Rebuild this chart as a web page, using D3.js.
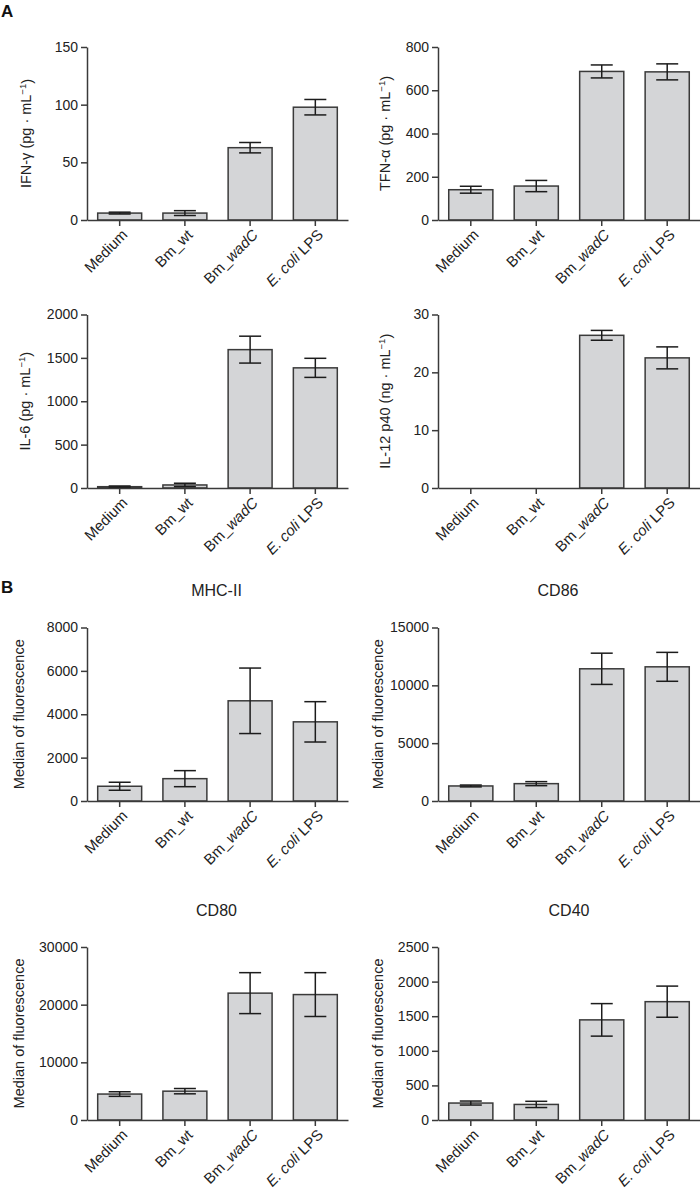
<!DOCTYPE html>
<html><head><meta charset="utf-8">
<script src="https://cdn.jsdelivr.net/npm/d3@7"></script>
<style>
html,body{margin:0;padding:0;background:#fff;}
svg{display:block;font-family:"Liberation Sans",Arial,Helvetica,sans-serif;}
</style></head>
<body>
<svg id="chart" width="700" height="1189"></svg>
<script>
// ---- data ----
const categories = ["Medium", "Bm_wt", "Bm_wadC", "E. coli LPS"];

const ifnMean = [6, 6, 62.7, 97.8];
const ifnErr  = [0.8, 2.1, 4.5, 6.7];
const ifnTicks = [0, 50, 100, 150];

const tnfMean = [140, 157, 687, 685];
const tnfErr  = [16, 26, 30, 37];
const tnfTicks = [0, 200, 400, 600, 800];

const il6Mean = [15, 35, 1595, 1385];
const il6Err  = [8, 20, 155, 110];
const il6Ticks = [0, 500, 1000, 1500, 2000];

const il12Mean = [0, 0, 26.4, 22.5];
const il12Err  = [0, 0, 0.85, 1.9];
const il12Ticks = [0, 10, 20, 30];

const mhcMean = [680, 1030, 4620, 3650];
const mhcErr  = [185, 370, 1510, 930];
const mhcTicks = [0, 2000, 4000, 6000, 8000];

const cd86Mean = [1300, 1500, 11430, 11600];
const cd86Err  = [80, 175, 1350, 1250];
const cd86Ticks = [0, 5000, 10000, 15000];

const cd80Mean = [4500, 5000, 22000, 21750];
const cd80Err  = [400, 460, 3550, 3800];
const cd80Ticks = [0, 10000, 20000, 30000];

const cd40Mean = [245, 225, 1447, 1710];
const cd40Err  = [29, 45, 235, 225];
const cd40Ticks = [0, 500, 1000, 1500, 2000, 2500];

// ---- layout ----
const L = {x0: 87, x1: 348}, R = {x0: 438, x1: 700};
const rows = [{t: 47, b: 220}, {t: 314.5, b: 488}, {t: 627.5, b: 801}, {t: 947, b: 1120}];

const panels = [
  {col: L, row: rows[0], mean: ifnMean, err: ifnErr, ticks: ifnTicks, ylab: ["IFN-γ (pg · mL", "−1", ")"], labX: 26},
  {col: R, row: rows[0], mean: tnfMean, err: tnfErr, ticks: tnfTicks, ylab: ["TFN-α (pg · mL", "−1", ")"], labX: 385},
  {col: L, row: rows[1], mean: il6Mean, err: il6Err, ticks: il6Ticks, ylab: ["IL-6 (pg · mL", "−1", ")"], labX: 25},
  {col: R, row: rows[1], mean: il12Mean, err: il12Err, ticks: il12Ticks, ylab: ["IL-12 p40 (ng · mL", "−1", ")"], labX: 385},
  {col: L, row: rows[2], mean: mhcMean, err: mhcErr, ticks: mhcTicks, ylab: ["Median of fluorescence"], labX: 19, title: "MHC-II", titleX: 216.5, titleY: 596},
  {col: R, row: rows[2], mean: cd86Mean, err: cd86Err, ticks: cd86Ticks, ylab: ["Median of fluorescence"], labX: 378, title: "CD86", titleX: 558, titleY: 596},
  {col: L, row: rows[3], mean: cd80Mean, err: cd80Err, ticks: cd80Ticks, ylab: ["Median of fluorescence"], labX: 19, title: "CD80", titleX: 216.5, titleY: 916},
  {col: R, row: rows[3], mean: cd40Mean, err: cd40Err, ticks: cd40Ticks, ylab: ["Median of fluorescence"], labX: 378, title: "CD40", titleX: 569, titleY: 916}
];

const svg = d3.select("#chart");
const axisColor = "#3a3a3a", textColor = "#222";

svg.append("text").attr("x", 1).attr("y", 17).attr("font-size", 17).attr("font-weight", "bold").attr("fill", "#111").text("A");
svg.append("text").attr("x", 1).attr("y", 593).attr("font-size", 17).attr("font-weight", "bold").attr("fill", "#111").text("B");

panels.forEach(p => {
  const g = svg.append("g");
  const x = d3.scaleBand().domain(categories).range([p.col.x0, p.col.x1]).paddingInner(0.326).paddingOuter(0.164);
  const y = d3.scaleLinear().domain([0, d3.max(p.ticks)]).range([p.row.b, p.row.t]);

  // bars
  const data = categories.map((c, i) => ({c, m: p.mean[i], e: p.err[i]}));
  g.selectAll("rect.bar").data(data.filter(d => d.m > 0)).enter().append("rect")
    .attr("x", d => x(d.c)).attr("width", x.bandwidth())
    .attr("y", d => y(d.m)).attr("height", d => y(0) - y(d.m))
    .attr("fill", "#d4d5d7").attr("stroke", axisColor).attr("stroke-width", 1.5);

  // error bars
  const eb = data.filter(d => d.e > 0);
  const cap = 11;
  const eg = g.selectAll("g.err").data(eb).enter().append("g").attr("stroke", "#1c1c1c").attr("stroke-width", 1.5);
  eg.append("line").attr("x1", d => x(d.c) + x.bandwidth()/2).attr("x2", d => x(d.c) + x.bandwidth()/2)
    .attr("y1", d => y(d.m + d.e)).attr("y2", d => y(d.m - d.e));
  eg.append("line").attr("x1", d => x(d.c) + x.bandwidth()/2 - cap).attr("x2", d => x(d.c) + x.bandwidth()/2 + cap)
    .attr("y1", d => y(d.m + d.e)).attr("y2", d => y(d.m + d.e));
  eg.append("line").attr("x1", d => x(d.c) + x.bandwidth()/2 - cap).attr("x2", d => x(d.c) + x.bandwidth()/2 + cap)
    .attr("y1", d => y(d.m - d.e)).attr("y2", d => y(d.m - d.e));

  // y axis
  const ya = g.append("g").attr("transform", `translate(${p.col.x0},0)`)
    .call(d3.axisLeft(y).tickValues(p.ticks).tickFormat(d3.format("d")).tickSize(6).tickPadding(3).tickSizeOuter(0));
  ya.select(".domain").attr("stroke", axisColor).attr("stroke-width", 1.5);
  ya.selectAll(".tick line").attr("stroke", axisColor).attr("stroke-width", 1.5);
  ya.selectAll(".tick text").attr("font-size", 14).attr("fill", textColor).attr("font-family", "Liberation Sans, Arial, sans-serif");

  // x axis
  const xa = g.append("g").attr("transform", `translate(0,${p.row.b})`)
    .call(d3.axisBottom(x).tickSize(6).tickSizeOuter(0).tickFormat(""));
  xa.select(".domain").attr("stroke", axisColor).attr("stroke-width", 1.5);
  xa.selectAll(".tick line").attr("stroke", axisColor).attr("stroke-width", 1.5);
  xa.selectAll(".tick text").remove();

  categories.forEach(c => {
    const cx = x(c) + x.bandwidth()/2;
    const t = g.append("text")
      .attr("transform", `translate(${cx + 5},${p.row.b + 12}) rotate(-45)`)
      .attr("text-anchor", "end").attr("dy", "0.35em")
      .attr("font-size", 15).attr("fill", textColor);
    if (c === "Bm_wadC") {
      t.append("tspan").text("Bm_");
      t.append("tspan").attr("font-style", "italic").text("wadC");
    } else if (c === "E. coli LPS") {
      t.append("tspan").attr("font-style", "italic").text("E. coli");
      t.append("tspan").text(" LPS");
    } else {
      t.text(c);
    }
  });

  // y label
  const cy = (p.row.t + p.row.b) / 2;
  const yl = g.append("text").attr("transform", `translate(${p.labX},${cy}) rotate(-90)`)
    .attr("text-anchor", "middle").attr("dy", "0.35em").attr("font-size", 14.5).attr("fill", textColor);
  yl.append("tspan").text(p.ylab[0]);
  if (p.ylab.length > 1) {
    yl.append("tspan").attr("font-size", 9.5).attr("dy", "-0.55em").text(p.ylab[1]);
    yl.append("tspan").attr("font-size", 14.5).attr("dy", "0.4em").text(p.ylab[2]);
  }

  if (p.title) {
    g.append("text").attr("x", p.titleX).attr("y", p.titleY).attr("text-anchor", "middle")
      .attr("font-size", 16).attr("fill", textColor).text(p.title);
  }
});
</script>
</body></html>
